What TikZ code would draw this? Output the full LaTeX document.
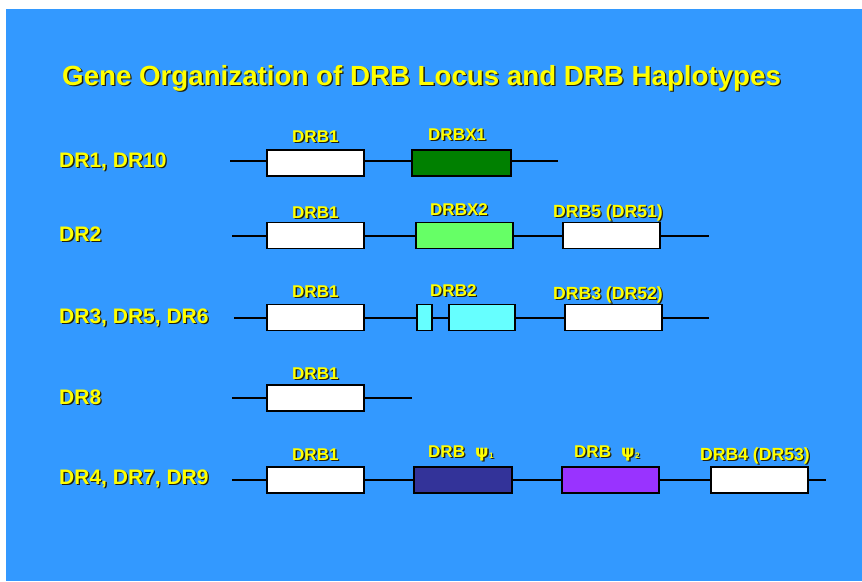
\documentclass[tikz,border=0pt]{standalone}
\usepackage{fontspec}
\setmainfont{Liberation Sans}
\newfontfamily\dvs{DejaVu Sans}
\definecolor{bg}{HTML}{3399FF}
\definecolor{yel}{HTML}{FFFF00}
\definecolor{shadowc}{HTML}{202010}
\definecolor{dkgreen}{HTML}{008000}
\definecolor{ltgreen}{HTML}{66FF66}
\definecolor{ltcyan}{HTML}{66FFFF}
\definecolor{navy}{HTML}{333399}
\definecolor{violet}{HTML}{9933FF}
\newcommand\shd[1]{\leavevmode\rlap{\kern1.3pt\raisebox{-1.3pt}{\textcolor{shadowc}{#1}}}#1}
\newcommand\psisym[1]{{\dvs\bfseries ψ}\kern0.3pt\raisebox{-1.5pt}{\fontsize{8}{8}\selectfont\bfseries #1}}
\begin{document}
\begin{tikzpicture}[x=1pt,y=-1pt,
  titlelbl/.style={inner sep=0pt,anchor=base west,text=yel,font=\fontsize{27.7}{30}\selectfont\bfseries},
  rowlbl/.style={inner sep=0pt,anchor=base west,text=yel,font=\fontsize{21}{24}\selectfont\bfseries},
  genelbl/.style={inner sep=0pt,anchor=base west,text=yel,font=\fontsize{17}{20}\selectfont\bfseries},
  widelbl/.style={genelbl,font=\fontsize{17.6}{20}\selectfont\bfseries},
  gbox/.style={draw=black,line width=1.4pt,minimum width=97pt,minimum height=26pt,inner sep=0pt},
  conn/.style={draw=black,line width=2pt}]
\useasboundingbox (0,0) rectangle (862,581);
\fill[white] (0,0) rectangle (862,581);
\fill[bg] (6,9) rectangle (862,581);

% title
\node[titlelbl] (title) at (62,85) {\shd{Gene Organization of DRB Locus and DRB Haplotypes}};

% row labels
\node[rowlbl] (dr1) at (59,167) {\shd{DR1, DR10}};
\node[rowlbl] (dr2) at (59,241) {\shd{DR2}};
\node[rowlbl] (dr3) at (59,323) {\shd{DR3, DR5, DR6}};
\node[rowlbl] (dr8) at (59,404) {\shd{DR8}};
\node[rowlbl] (dr4) at (59,484) {\shd{DR4, DR7, DR9}};

% row 1
\node[gbox,fill=white] (r1a) at (315.5,163) {};
\node[gbox,fill=dkgreen,minimum width=99pt] (r1b) at (461.5,163) {};
\coordinate (r1s) at (230,161);
\coordinate (r1e) at (558,161);
\draw[conn] (r1s) -- (r1s -| r1a.west);
\draw[conn] (r1a.east |- r1s) -- (r1b.west |- r1s);
\draw[conn] (r1b.east |- r1s) -- (r1e);
\node[genelbl] (l1a) at (292,142) {\shd{DRB1}};
\node[genelbl] (l1b) at (428,140) {\shd{DRBX1}};

% row 2
\node[gbox,fill=white] (r2a) at (315.5,235.5) {};
\node[gbox,fill=ltgreen] (r2b) at (464.5,235.5) {};
\node[gbox,fill=white] (r2c) at (611.5,235.5) {};
\coordinate (r2s) at (232,235.5);
\coordinate (r2e) at (709,235.5);
\draw[conn] (r2s) -- (r2a) -- (r2b) -- (r2c) -- (r2e);
\node[genelbl] (l2a) at (292,218) {\shd{DRB1}};
\node[genelbl] (l2b) at (430,215) {\shd{DRBX2}};
\node[widelbl] (l2c) at (553,217) {\shd{DRB5 (DR51)}};

% row 3
\node[gbox,fill=white] (r3a) at (315.5,317.5) {};
\node[gbox,fill=ltcyan,minimum width=15pt] (r3b) at (424.5,317.5) {};
\node[gbox,fill=ltcyan,minimum width=66pt] (r3c) at (482,317.5) {};
\node[gbox,fill=white] (r3d) at (613.5,317.5) {};
\coordinate (r3s) at (234,317.5);
\coordinate (r3e) at (709,317.5);
\draw[conn] (r3s) -- (r3a) -- (r3b) -- (r3c) -- (r3d) -- (r3e);
\node[genelbl] (l3a) at (292,297) {\shd{DRB1}};
\node[genelbl] (l3b) at (430,296) {\shd{DRB2}};
\node[widelbl] (l3c) at (553,299) {\shd{DRB3 (DR52)}};

% row 4
\node[gbox,fill=white] (r4a) at (315.5,398) {};
\coordinate (r4s) at (232,398);
\coordinate (r4e) at (412,398);
\draw[conn] (r4s) -- (r4a) -- (r4e);
\node[genelbl] (l4a) at (292,379) {\shd{DRB1}};

% row 5
\node[gbox,fill=white] (r5a) at (315.5,480) {};
\node[gbox,fill=navy,minimum width=98pt] (r5b) at (463,480) {};
\node[gbox,fill=violet] (r5c) at (610.5,480) {};
\node[gbox,fill=white] (r5d) at (759.5,480) {};
\coordinate (r5s) at (232,480);
\coordinate (r5e) at (826,480);
\draw[conn] (r5s) -- (r5a) -- (r5b) -- (r5c) -- (r5d) -- (r5e);
\node[genelbl] (l5a) at (292,460) {\shd{DRB1}};
\node[genelbl] (l5b) at (428,457) {\shd{DRB\hspace{0.6em}\psisym{1}}};
\node[genelbl] (l5c) at (574,457) {\shd{DRB\hspace{0.6em}\psisym{2}}};
\node[widelbl] (l5d) at (700,460) {\shd{DRB4 (DR53)}};
\end{tikzpicture}
\end{document}
